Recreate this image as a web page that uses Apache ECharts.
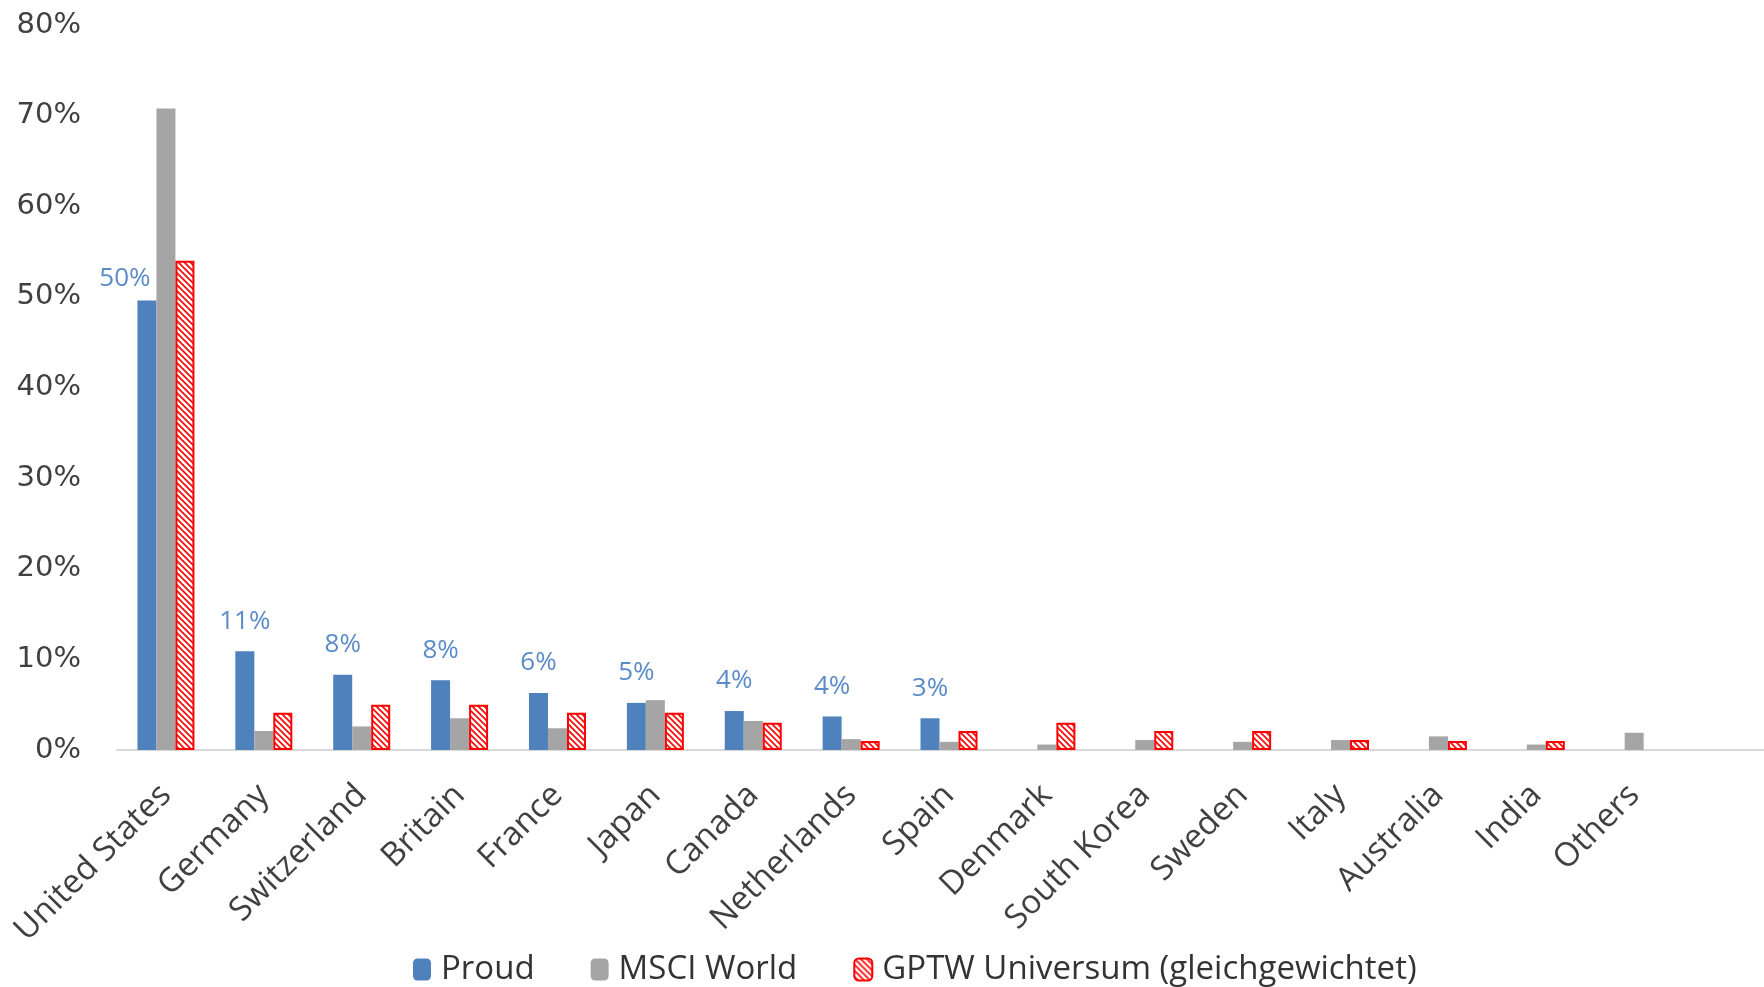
<!DOCTYPE html>
<html>
<head>
<meta charset="utf-8">
<script src="https://cdn.jsdelivr.net/npm/echarts@6/dist/echarts.min.js"></script>
<style>
  html, body { margin: 0; padding: 0; background: #fff; overflow: hidden; }
  /* a bit wider than the window so the axis line runs past the right edge */
  #chart { width: 1800px; height: 987px; }
</style>
</head>
<body>
<div id="chart"></div>
<script>
// categories (last one is an empty slot so the axis line runs to the edge)
var countries = ['United States', 'Germany', 'Switzerland', 'Britain', 'France', 'Japan', 'Canada',
  'Netherlands', 'Spain', 'Denmark', 'South Korea', 'Sweden', 'Italy', 'Australia', 'India', 'Others', ''];
var proud = [49.6, 10.9, 8.3, 7.7, 6.3, 5.2, 4.3, 3.7, 3.5, null, null, null, null, null, null, null];
var msci = [70.8, 2.1, 2.6, 3.5, 2.4, 5.5, 3.2, 1.2, 0.9, 0.6, 1.1, 0.9, 1.1, 1.5, 0.6, 1.9];
var gptw = [54.0, 4.1, 5.0, 5.0, 4.1, 4.1, 3.0, 1.0, 2.1, 3.0, 2.1, 2.1, 1.1, 1.0, 1.0, null];
var proudLabels = ['50%', '11%', '8%', '8%', '6%', '5%', '4%', '4%', '3%'];
var yTicks = [0, 10, 20, 30, 40, 50, 60, 70, 80];

// hatch pattern for GPTW bars
function hatch() {
  var c = document.createElement('canvas');
  c.width = 6; c.height = 6;
  var ctx = c.getContext('2d');
  ctx.fillStyle = '#fff';
  ctx.fillRect(0, 0, 6, 6);
  ctx.strokeStyle = '#ff0000';
  ctx.lineWidth = 1.6;
  ctx.beginPath();
  ctx.moveTo(-3, -3); ctx.lineTo(9, 9);
  ctx.moveTo(-3, 3); ctx.lineTo(3, 9);
  ctx.moveTo(3, -3); ctx.lineTo(9, 3);
  ctx.stroke();
  return c;
}

var proudData = proud.map(function (v, i) {
  var item = { value: v };
  if (proudLabels[i]) {
    item.label = { show: true, formatter: proudLabels[i] };
    if (i === 0) item.label.offset = [-22, 8];
  }
  return item;
});

var myChart = echarts.init(document.getElementById('chart'));
var option = {
  animation: false,
  grid: { left: 117, right: 19, top: 25, bottom: 237 },
  legend: {
    left: 408, top: 948,
    itemWidth: 18, itemHeight: 22, itemGap: 56,
    textStyle: { fontFamily: 'Open Sans', fontSize: 33, color: '#333', padding: [0, 0, 0, 5] },
    data: ['Proud', 'MSCI World', 'GPTW Universum (gleichgewichtet)']
  },
  xAxis: {
    type: 'category',
    data: countries,
    axisLine: { show: true, lineStyle: { color: '#d9d9d9', width: 2 } },
    axisTick: { show: false },
    axisLabel: {
      interval: 0, rotate: 45, margin: 40,
      fontFamily: 'Open Sans', fontSize: 33, color: '#404040'
    }
  },
  yAxis: {
    type: 'value',
    min: 0, max: 80, interval: 10,
    splitLine: { show: false },
    axisLine: { show: false },
    axisTick: { show: false },
    axisLabel: {
      margin: 36,
      fontFamily: 'DejaVu Sans', fontSize: 29, color: '#404040',
      formatter: function (v) { return yTicks.indexOf(v) >= 0 ? v + '%' : ''; }
    }
  },
  series: [{
    name: 'Proud', type: 'bar', data: proudData,
    barWidth: 19, barGap: '0%', barCategoryGap: '41%',
    itemStyle: { color: '#4f81bd' },
    label: {
      show: false, position: 'top', distance: 17,
      fontFamily: 'Open Sans', fontSize: 26, color: '#5b8bc9'
    }
  }, {
    name: 'MSCI World', type: 'bar', data: msci,
    barWidth: 19, barGap: '0%',
    itemStyle: { color: '#a5a5a5' }
  }, {
    name: 'GPTW Universum (gleichgewichtet)', type: 'bar', data: gptw,
    barWidth: 19, barGap: '0%',
    itemStyle: { color: { image: hatch(), repeat: 'repeat' }, borderColor: '#ff0000', borderWidth: 2 }
  }]
};
myChart.setOption(option);
</script>
</body>
</html>
